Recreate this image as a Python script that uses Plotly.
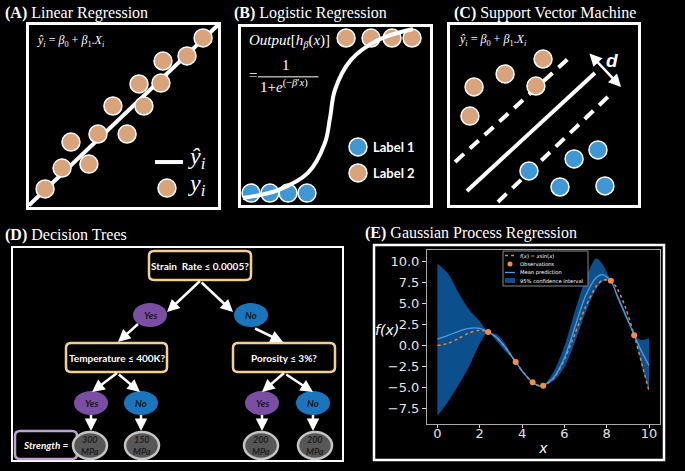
"""Five-panel overview of ML methods (linear, logistic, SVM, tree, GPR)."""

import plotly.graph_objects as go

W, H = 685, 471

# (A) linear regression
lin_x = [0.85, 1.75, 3.17, 2.22, 3.65, 5.19, 4.44, 6.08, 5.82, 6.98, 7.09, 8.36, 9.21]
lin_y = [0.99, 2.14, 2.36, 3.57, 4.01, 4.01, 5.55, 5.55, 6.76, 6.81, 8.02, 8.30, 9.29]
fit_x = [0.0, 10.0]
fit_y = [0.1, 10.0]

# (B) logistic regression
label1_x = [0.53, 1.53, 2.49, 3.49]
label1_y = [0.67, 0.67, 0.67, 0.67]
label2_x = [5.56, 6.88, 7.99, 9.05]
label2_y = [9.38, 9.38, 9.38, 9.38]
sig_x = [0.1, 1.96, 3.54, 4.44, 4.71, 4.97, 5.82, 7.25, 9.1]
sig_y = [0.39, 0.84, 1.80, 3.48, 4.89, 6.46, 8.15, 9.27, 9.89]

# (C) support vector machine
svm_tan_x = [4.95, 2.93, 1.28, 4.57, 1.06]
svm_tan_y = [8.11, 7.28, 6.56, 6.61, 4.94]
svm_blue_x = [7.87, 6.60, 4.20, 5.85, 8.24]
svm_blue_y = [3.06, 2.56, 1.89, 1.00, 1.06]
hyper_x = [0.90, 7.71]
hyper_y = [0.78, 7.33]
margin_hi_x = [0.27, 6.33]
margin_hi_y = [2.39, 8.17]
margin_lo_x = [2.55, 8.56]
margin_lo_y = [0.17, 6.17]

# (D) decision tree
questions = ["Strain  Rate ≤ 0.0005?", "Temperature ≤ 400K?", "Porosity ≤ 3%?"]
answers = ["Yes", "No", "Yes", "No", "Yes", "No"]
leaf_mpa = [300, 150, 200, 200]

# (E) gaussian process regression
gp_x = [0, 0.5, 1.0, 1.5, 2.0, 2.4, 2.8, 3.2, 3.7, 4.1, 4.5, 4.75, 5.0,
        5.5, 6.0, 6.5, 7.0, 7.5, 7.8, 8.2, 8.5, 8.9, 9.3, 9.65, 10]
true_f = [0.0, 0.24, 0.84, 1.50, 1.82, 1.62, 0.94, -0.19, -1.96, -3.35, -4.40, -4.75, -4.79,
          -3.88, -1.68, 1.40, 4.60, 7.04, 7.79, 7.72, 6.78, 4.46, 1.23, -2.05, -5.44]
mean_pred = [0.75, 1.2, 1.7, 2.05, 2.05, 1.62, 0.95, -0.2, -1.96, -3.35, -4.40, -4.78, -4.79,
             -3.8, -1.5, 2.2, 5.9, 8.1, 8.45, 7.72, 5.9, 3.6, 1.23, -0.7, -2.4]
ci_upper = [9.8, 8.6, 6.3, 4.3, 2.9, 1.62, 1.35, 0.25, -1.96, -3.2, -4.40, -4.68, -4.79,
            -3.1, -0.1, 4.1, 7.9, 10.4, 9.7, 7.72, 6.2, 3.9, 1.23, 0.66, 0.9]
ci_lower = [-8.4, -6.7, -4.7, -2.5, 0.2, 1.62, 0.55, -0.65, -1.96, -3.5, -4.40, -4.88, -4.79,
            -4.2, -2.6, 0.4, 3.9, 6.7, 7.6, 7.72, 5.6, 3.3, 1.23, -2.3, -5.5]
obs_x = [2.4, 3.7, 4.5, 5.0, 8.2, 9.3]
obs_y = [1.62, -1.96, -4.40, -4.79, 7.72, 1.23]
gp_labels = ["<i>f</i>(<i>x</i>) = <i>x</i>sin(<i>x</i>)", "Observations", "Mean prediction",
             "95% confidence interval"]

TAN = "#d9a37c"
BLUE = "#3f97d6"
GOLD = "#f3d08c"
CI_BLUE = "#0b4f8d"
MEAN_BLUE = "#4f9de0"
ORANGE = "#e8843f"
SERIF = "Liberation Serif"
SANS = "Lato"


def dom(x0, y0, x1, y1):
    return [x0 / W, x1 / W], [1 - y1 / H, 1 - y0 / H]


def rrect(x0, y0, x1, y1, r):
    return (f"M{x0 + r},{y0} L{x1 - r},{y0} Q{x1},{y0} {x1},{y0 + r} L{x1},{y1 - r} "
            f"Q{x1},{y1} {x1 - r},{y1} L{x0 + r},{y1} Q{x0},{y1} {x0},{y1 - r} "
            f"L{x0},{y0 + r} Q{x0},{y0} {x0 + r},{y0} Z")


fig = go.Figure()
shapes, notes = [], []

# base pixel canvas
fig.add_trace(go.Scatter(x=[0], y=[0], mode="markers", marker_opacity=0, showlegend=False,
                         hoverinfo="skip", xaxis="x", yaxis="y"))

box_axis = dict(range=[0, 10], showgrid=False, zeroline=False, showticklabels=False, ticks="",
                showline=True, mirror=True, linecolor="white", linewidth=3, fixedrange=True)
panels = {"2": (29, 25, 218, 207), "3": (241, 27, 430, 205), "4": (450, 25, 638, 205)}
for k, box in panels.items():
    xd, yd = dom(*box)
    fig.layout[f"xaxis{k}"] = dict(box_axis, domain=xd, anchor=f"y{k}")
    fig.layout[f"yaxis{k}"] = dict(box_axis, domain=yd, anchor=f"x{k}")

dot = dict(size=18, line=dict(color="white", width=1.5))

# (A)
fig.add_trace(go.Scatter(x=fit_x, y=fit_y, mode="lines", line=dict(color="white", width=4),
                         xaxis="x2", yaxis="y2", showlegend=False))
fig.add_trace(go.Scatter(x=lin_x, y=lin_y, mode="markers", marker=dict(dot, color=TAN),
                         xaxis="x2", yaxis="y2", showlegend=False))
shapes.append(dict(type="line", xref="x2", yref="y2", x0=6.67, x1=8.15, y0=2.47, y1=2.47,
                   line=dict(color="white", width=4)))
shapes.append(dict(type="circle", xref="x2", yref="y2", xsizemode="pixel", ysizemode="pixel",
                   xanchor=7.3, yanchor=1.04, x0=-9, x1=9, y0=-9, y1=9, fillcolor=TAN,
                   line=dict(color="white", width=1.5)))
notes += [
    dict(xref="x2", yref="y2", x=8.3, y=2.7, text="<i>ŷ<sub>i</sub></i>",
         font=dict(family=SERIF, size=24, color="white")),
    dict(xref="x2", yref="y2", x=8.3, y=1.2, text="<i>y<sub>i</sub></i>",
         font=dict(family=SERIF, size=24, color="white")),
    dict(xref="x2", yref="y2", x=0.3, y=9.1,
         text="<i>ŷ<sub>i</sub></i> = <i>β</i><sub>0</sub> + <i>β</i><sub>1</sub>.<i>X<sub>i</sub></i>",
         font=dict(family=SERIF, size=12, color="white")),
]

# (B)
fig.add_trace(go.Scatter(x=label1_x, y=label1_y, mode="markers", marker=dict(dot, color=BLUE),
                         xaxis="x3", yaxis="y3", showlegend=False))
fig.add_trace(go.Scatter(x=label2_x, y=label2_y, mode="markers", marker=dict(dot, color=TAN),
                         xaxis="x3", yaxis="y3", showlegend=False))
fig.add_trace(go.Scatter(x=sig_x, y=sig_y, mode="lines", line=dict(color="white", width=4, shape="spline"),
                         xaxis="x3", yaxis="y3", showlegend=False))
for yy, col, lab in [(3.26, BLUE, "Label 1"), (1.80, TAN, "Label 2")]:
    shapes.append(dict(type="circle", xref="x3", yref="y3", xsizemode="pixel", ysizemode="pixel",
                       xanchor=6.19, yanchor=yy, x0=-9, x1=9, y0=-9, y1=9, fillcolor=col,
                       line=dict(color="white", width=1.5)))
    notes.append(dict(xref="x3", yref="y3", x=6.9, y=yy, text=f"<b>{lab}</b>",
                      font=dict(family=SANS, size=13, color="white")))
notes += [
    dict(xref="x3", yref="y3", x=0.3, y=9.2, text="<i>Output</i>[<i>h<sub>β</sub></i>(<i>x</i>)]",
         font=dict(family=SERIF, size=15, color="white")),
    dict(xref="x3", yref="y3", x=0.3, y=7.3, text="=", font=dict(family=SERIF, size=15, color="white")),
    dict(xref="x3", yref="y3", x=2.4, y=7.85, text="1", xanchor="center",
         font=dict(family=SERIF, size=15, color="white")),
    dict(xref="x3", yref="y3", x=0.9, y=6.7, text="1+<i>e</i><sup>(−<i>β</i>′<i>x</i>)</sup>",
         font=dict(family=SERIF, size=15, color="white")),
]
shapes.append(dict(type="line", xref="x3", yref="y3", x0=0.9, x1=4.1, y0=7.2, y1=7.2,
                   line=dict(color="white", width=1)))

# (C)
for lx, ly, dash in [(hyper_x, hyper_y, "solid"), (margin_hi_x, margin_hi_y, "12px,8px"),
                     (margin_lo_x, margin_lo_y, "12px,8px")]:
    fig.add_trace(go.Scatter(x=lx, y=ly, mode="lines", line=dict(color="white", width=4, dash=dash),
                             xaxis="x4", yaxis="y4", showlegend=False))
fig.add_trace(go.Scatter(x=svm_tan_x, y=svm_tan_y, mode="markers", marker=dict(dot, color=TAN),
                         xaxis="x4", yaxis="y4", showlegend=False))
fig.add_trace(go.Scatter(x=svm_blue_x, y=svm_blue_y, mode="markers", marker=dict(dot, color=BLUE),
                         xaxis="x4", yaxis="y4", showlegend=False))
notes += [
    dict(xref="x4", yref="y4", x=0.35, y=9.15,
         text="<i>ŷ<sub>i</sub></i> = <i>β</i><sub>0</sub> + <i>β</i><sub>1</sub>.<i>X<sub>i</sub></i>",
         font=dict(family=SERIF, size=12, color="white")),
    dict(xref="x4", yref="y4", x=9.1, y=6.56, ax=7.34, ay=8.5, axref="x4", ayref="y4", text="",
         showarrow=True, arrowhead=2, startarrowhead=2, arrowside="end+start", arrowsize=1,
         arrowwidth=2.5, arrowcolor="white", xanchor="center"),
    dict(xref="x4", yref="y4", x=8.6, y=8.0, text="<b><i>d</i></b>", xanchor="center",
         font=dict(family="Liberation Sans", size=19, color="white")),
]

# (D) decision tree on pixel canvas
shapes.append(dict(type="rect", xref="x", yref="y", x0=12, y0=247, x1=343, y1=461,
                   line=dict(color="white", width=2), layer="below"))
q_boxes = [(149, 251, 251, 280), (66, 343, 167, 372), (233, 343, 335, 372)]
for (x0, y0, x1, y1), q in zip(q_boxes, questions):
    shapes.append(dict(type="path", xref="x", yref="y", path=rrect(x0, y0, x1, y1, 5),
                       fillcolor="black", line=dict(color=GOLD, width=2.5)))
    notes.append(dict(xref="x", yref="y", x=(x0 + x1) / 2, y=(y0 + y1) / 2, text=f"<b>{q}</b>",
                      xanchor="center", font=dict(family=SANS, size=10, color="white")))

ans_pos = [(150, 315), (251, 315), (91, 403), (141, 403), (262, 403), (313, 403)]
for (cx, cy), a in zip(ans_pos, answers):
    col = "#7a4fa3" if a == "Yes" else "#1b75bc"
    shapes.append(dict(type="circle", xref="x", yref="y", x0=cx - 17, x1=cx + 17, y0=cy - 12, y1=cy + 12,
                       fillcolor=col, line=dict(width=0)))
    notes.append(dict(xref="x", yref="y", x=cx, y=cy, text=f"<b><i>{a}</i></b>", xanchor="center",
                      font=dict(family=SANS, size=9.5, color="#161616")))

shapes.append(dict(type="path", xref="x", yref="y", path=rrect(15, 431, 77, 459, 5),
                   fillcolor="black", line=dict(color="#b9a3d3", width=2.5)))
notes.append(dict(xref="x", yref="y", x=46, y=445, text="<b><i>Strength =</i></b>", xanchor="center",
                  font=dict(family=SANS, size=10, color="white")))
leaf_pos = [90, 142, 261, 315]
for cx, v in zip(leaf_pos, leaf_mpa):
    shapes.append(dict(type="circle", xref="x", yref="y", x0=cx - 17, x1=cx + 17, y0=432, y1=459,
                       fillcolor="#575757", line=dict(color="#c4c4c4", width=2.5)))
    notes.append(dict(xref="x", yref="y", x=cx, y=445.5, text=f"<b><i>{v}<br>MPa</i></b>", xanchor="center",
                      font=dict(family=SANS, size=9, color="#1e1e1e")))

arrows = [((200, 281), (167, 312)), ((200, 281), (233, 312)), ((138, 324), (118, 342)),
          ((252, 327), (283, 342)), ((117, 373), (92, 392)), ((117, 373), (140, 392)),
          ((284, 373), (262, 392)), ((284, 373), (313, 392)), ((91, 415), (91, 431)),
          ((141, 415), (141, 431)), ((262, 415), (262, 431)), ((313, 415), (313, 431))]
for (tx, ty), (hx, hy) in arrows:
    notes.append(dict(xref="x", yref="y", x=hx, y=hy, ax=tx, ay=ty, axref="x", ayref="y", text="",
                      showarrow=True, arrowhead=2, arrowsize=1, arrowwidth=2.5, arrowcolor="white"))

# (E) gaussian process regression
shapes.append(dict(type="rect", xref="x", yref="y", x0=374, y0=245, x1=664, y1=460,
                   line=dict(color="white", width=2.5), layer="below"))
xd, yd = dom(427, 250, 660, 424)
tick_font = dict(family="DejaVu Sans", size=13, color="#e6e6e6")
fig.layout.xaxis5 = dict(domain=xd, anchor="y5", range=[-0.49, 10.52], tickvals=[0, 2, 4, 6, 8, 10],
                         showgrid=False, zeroline=False, showline=True, mirror=True, linecolor="#aaaaaa",
                         linewidth=1, ticks="outside", ticklen=3, tickcolor="#dddddd", tickfont=tick_font,
                         ticklabelstandoff=-6,
                         title=dict(text="<i>x</i>", font=dict(family="DejaVu Sans", size=14, color="white"),
                                    standoff=3))
fig.layout.yaxis5 = dict(domain=yd, anchor="x5", range=[-9.37, 11.40],
                         tickvals=[-7.5, -5, -2.5, 0, 2.5, 5, 7.5, 10], tickformat=".1f",
                         showgrid=False, zeroline=False, showline=True, mirror=True, linecolor="#aaaaaa",
                         linewidth=1, ticks="outside", ticklen=4, tickcolor="#dddddd", tickfont=tick_font)
spline = dict(shape="spline", smoothing=0.8)
fig.add_trace(go.Scatter(x=gp_x, y=ci_upper, mode="lines", line=dict(width=0, **spline),
                         xaxis="x5", yaxis="y5", showlegend=False, hoverinfo="skip"))
fig.add_trace(go.Scatter(x=gp_x, y=ci_lower, mode="lines", line=dict(width=0, **spline), fill="tonexty",
                         fillcolor=CI_BLUE, name=gp_labels[3], showlegend=False, xaxis="x5", yaxis="y5"))
fig.add_trace(go.Scatter(x=gp_x, y=true_f, mode="lines", name=gp_labels[0], showlegend=False,
                         line=dict(color=ORANGE, width=1.5, dash="dot", **spline), xaxis="x5", yaxis="y5"))
fig.add_trace(go.Scatter(x=gp_x, y=mean_pred, mode="lines", name=gp_labels[2], showlegend=False,
                         line=dict(color=MEAN_BLUE, width=1.3, **spline), xaxis="x5", yaxis="y5"))
fig.add_trace(go.Scatter(x=obs_x, y=obs_y, mode="markers", name=gp_labels[1], showlegend=False,
                         marker=dict(color="#f08c4c", size=6), xaxis="x5", yaxis="y5"))
notes.append(dict(xref="x", yref="y", x=387, y=330, text="<i>f(x)</i>", xanchor="center",
                  font=dict(family="DejaVu Sans", size=14, color="white")))

# small matplotlib-style legend for (E)
shapes.append(dict(type="rect", xref="x", yref="y", x0=503, y0=251, x1=588, y1=286,
                   fillcolor="black", line=dict(color="#8a8a8a", width=1)))
row_y = [255.5, 264, 272.5, 280.5]
shapes += [
    dict(type="line", xref="x", yref="y", x0=505, x1=515, y0=row_y[0], y1=row_y[0],
         line=dict(color=ORANGE, width=1.5, dash="dot")),
    dict(type="circle", xref="x", yref="y", x0=507.5, x1=512.5, y0=row_y[1] - 2.5, y1=row_y[1] + 2.5,
         fillcolor="#f08c4c", line=dict(width=0)),
    dict(type="line", xref="x", yref="y", x0=505, x1=515, y0=row_y[2], y1=row_y[2],
         line=dict(color=MEAN_BLUE, width=1.3)),
    dict(type="rect", xref="x", yref="y", x0=505, x1=515, y0=row_y[3] - 2.5, y1=row_y[3] + 2.5,
         fillcolor=CI_BLUE, line=dict(width=0)),
]
for ry, lab in zip(row_y, gp_labels):
    notes.append(dict(xref="x", yref="y", x=518, y=ry, text=lab,
                      font=dict(family="DejaVu Sans", size=5.2, color="white")))

# panel titles
for tx, ty, letter, name in [(3, 13, "A", "Linear Regression"), (232, 13, "B", "Logistic Regression"),
                             (452, 13, "C", "Support Vector Machine"), (3, 235, "D", "Decision Trees"),
                             (363, 233, "E", "Gaussian Process Regression")]:
    notes.append(dict(xref="x", yref="y", x=tx, y=ty, text=f"<b>({letter})</b> {name}",
                      font=dict(family=SERIF, size=16, color="white")))

for n in notes:
    n.setdefault("showarrow", False)
    n.setdefault("xanchor", "left")
    n.setdefault("yanchor", "middle")

fig.update_layout(
    width=W, height=H, margin=dict(l=0, r=0, t=0, b=0),
    paper_bgcolor="black", plot_bgcolor="black",
    xaxis=dict(domain=[0, 1], range=[0, W], visible=False, fixedrange=True),
    yaxis=dict(domain=[0, 1], range=[H, 0], visible=False, fixedrange=True),
    shapes=shapes, annotations=notes, showlegend=False,
)

fig.write_html("out.html", config={"displayModeBar": False},
               post_script="document.body.style.margin='0';document.body.style.overflow='hidden';")
